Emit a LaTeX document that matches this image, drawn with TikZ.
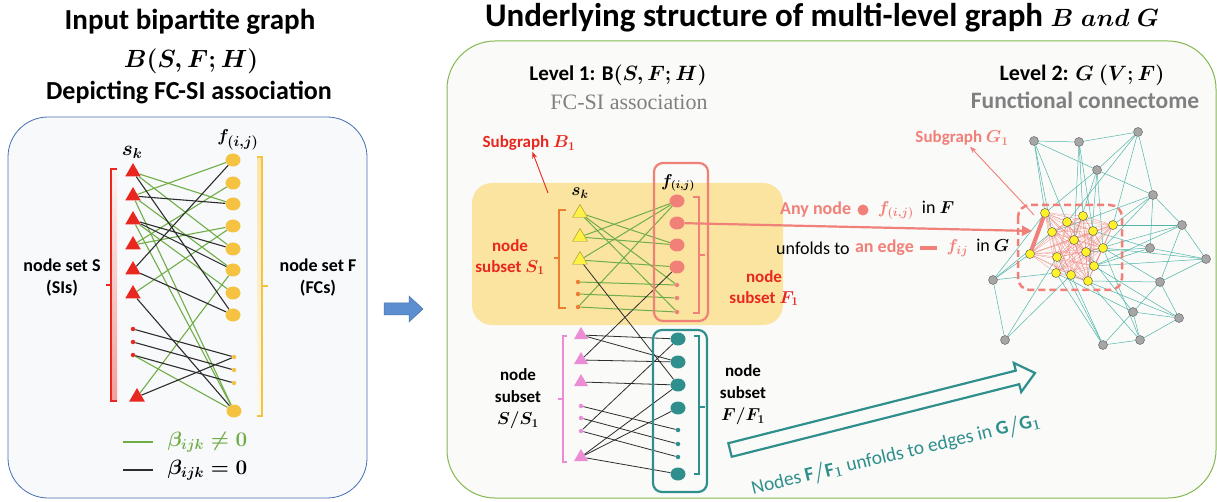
\documentclass[tikz,border=0pt]{standalone}
\usepackage{amsmath}
\usepackage{amssymb}
\usepackage{fontspec}
\setmainfont{Carlito}
\newfontfamily\camfont{Liberation Serif}
\usetikzlibrary{arrows.meta, positioning, shapes.geometric, calc}
\pgfdeclarelayer{panel}
\pgfdeclarelayer{edges}
\pgfsetlayers{panel,edges,main}

\definecolor{sired}{RGB}{232,40,30}
\definecolor{fcyellow}{RGB}{245,194,66}
\definecolor{betagreen}{RGB}{112,173,71}
\definecolor{edgeblack}{RGB}{45,45,45}
\definecolor{subyellow}{RGB}{250,228,160}
\definecolor{salmon}{RGB}{240,128,120}
\definecolor{tealc}{RGB}{47,143,140}
\definecolor{pinktri}{RGB}{236,140,212}
\definecolor{netteal}{RGB}{80,182,170}
\definecolor{nodegray}{RGB}{166,166,166}
\definecolor{ynet}{RGB}{255,242,40}
\definecolor{triyellow}{RGB}{255,240,70}
\definecolor{brorange}{RGB}{237,125,49}
\definecolor{panelblue}{RGB}{70,110,180}
\definecolor{panelgreen}{RGB}{130,185,80}
\definecolor{txtgray}{RGB}{128,128,128}
\definecolor{arrblue}{RGB}{91,143,208}
\definecolor{panelfill}{RGB}{248,249,251}
\definecolor{panelfilltwo}{RGB}{250,250,249}

\begin{document}
\begin{tikzpicture}[x=1pt, y=-1pt,
    title/.style={font=\fontsize{29}{32}\selectfont\bfseries},
    subtitle/.style={font=\fontsize{21}{25}\selectfont\bfseries},
    lbl/.style={font=\fontsize{17}{21}\selectfont\bfseries, align=center, inner sep=1pt},
    plain/.style={font=\fontsize{18}{21}\selectfont, inner sep=1pt},
    stri/.style={regular polygon, regular polygon sides=3, fill=#1, minimum size=18pt, inner sep=0pt},
    bignode/.style={ellipse, fill=#1, minimum width=15pt, minimum height=13pt, inner sep=0pt},
    sdot/.style={circle, fill=#1, minimum size=4.5pt, inner sep=0pt},
    gnode/.style={circle, fill=nodegray, draw=gray!70!black, line width=0.4pt, minimum size=9pt, inner sep=0pt},
    ynode/.style={circle, fill=ynet, draw=gray!60!black, line width=0.4pt, minimum size=9pt, inner sep=0pt},
    gedge/.style={betagreen, line width=1.1pt},
    bedge/.style={edgeblack, line width=1.1pt},
    thinb/.style={edgeblack, line width=0.8pt},
    tedge/.style={netteal, line width=0.5pt},
    redge/.style={salmon, line width=0.35pt, opacity=0.75},
    bracket/.style={line width=1.3pt},
    arr/.style={-{Stealth[length=7pt, width=5pt]}, line width=0.9pt}
  ]
  \useasboundingbox (0,0) rectangle (1217,502);

  % -- panels --
  \begin{pgfonlayer}{panel}
    \draw[panelblue, fill=panelfill, line width=0.8pt, rounded corners=40pt] (8,117) rectangle (367,498);
    \draw[panelgreen, fill=panelfilltwo, line width=1pt, rounded corners=48pt] (447,41) rectangle (1216,498);
    \fill[subyellow, rounded corners=20pt] (472,183) rectangle (783,325);
  \end{pgfonlayer}

  % -- titles --
  \node[title] (ltitle) at (190,22) {Input bipartite graph};
  \node[font=\fontsize{31}{34}\selectfont] (lmath) at (191,61) {$\boldsymbol{B(S,F;H)}$};
  \node[title, font=\fontsize{26}{30}\selectfont\bfseries] (ldesc) at (189,93) {Depicting FC-SI association};
  \node[title, font=\fontsize{33}{36}\selectfont\bfseries] (rtitle) at (822,18) {Underlying structure of multi-level graph $\boldsymbol{B}$ $\boldsymbol{and}$ $\boldsymbol{G}$};
  \node[subtitle] (lev1) at (618,75) {Level 1: $\boldsymbol{\mathrm{B}(S,F;H)}$};
  \node[font=\camfont\fontsize{22}{25}\selectfont, text=txtgray] (lev1d) at (629,102) {FC-SI association};
  \node[subtitle, font=\fontsize{22}{25}\selectfont\bfseries] (lev2) at (1082,75) {Level 2: $\boldsymbol{G\ (V;F)}$};
  \node[subtitle, font=\fontsize{23.5}{25}\selectfont\bfseries, text=txtgray] (lev2d) at (1085,100) {Functional connectome};

  % -- input bipartite graph --
  \foreach \y [count=\i] in {172,196,220,245,270,294}
    \node[stri=sired] (s\i) at (133,\y) {};
  \foreach \y [count=\i from 7] in {329,342,355}
    \node[sdot=sired] (s\i) at (133,\y) {};
  \node[stri=sired] (s10) at (137,397) {};
  \foreach \y [count=\i] in {160,183,204,226,249,270,293,315}
    \node[bignode=fcyellow] (f\i) at (233,\y) {};
  \foreach \y [count=\i from 9] in {357,370,383}
    \node[sdot=fcyellow] (f\i) at (234,\y) {};
  \node[bignode=fcyellow] (f12) at (234,411) {};
  \node[font=\fontsize{21}{24}\selectfont] (sk) at (132,152) {$\boldsymbol{s_k}$};
  \node[font=\fontsize{19}{22}\selectfont] (fij) at (238,140) {$\boldsymbol{f_{(i,j)}}$};

  \begin{pgfonlayer}{edges}
    \foreach \a/\b in {1/3,1/5,2/1,2/6,2/12,3/7,3/12,4/2,4/4,6/4,9/12,10/6}
      \draw[gedge] (s\a) -- (f\b);
    \foreach \a/\b in {1/8,2/3,3/5,3/6,5/1,5/8,6/12,7/9,8/10,9/11,10/9}
      \draw[bedge] (s\a) -- (f\b);
  \end{pgfonlayer}

  % brackets of S and F
  \shade[top color=sired!6, bottom color=sired!45] (111,169) rectangle (117,401);
  \draw[bracket, sired] (117,169) -- (111,169) -- (111,401) -- (117,401) (111,285) -- (106,285);
  \shade[top color=fcyellow!45, bottom color=fcyellow!10] (257,157) rectangle (262,416);
  \draw[bracket, fcyellow] (257,157) -- (262,157) -- (262,416) -- (257,416) (262,286) -- (268,286);
  \node[lbl, font=\fontsize{18}{22}\selectfont\bfseries] (setS) at (62,278) {node set S\\(SIs)};
  \node[lbl, font=\fontsize{18}{22}\selectfont\bfseries] (setF) at (318,278) {node set F\\(FCs)};

  % legend
  \coordinate (lgg) at (123,442);
  \coordinate (lggend) at (153,442);
  \coordinate (lgb) at (123,470);
  \coordinate (lgbend) at (153,470);
  \draw[gedge, line width=1.6pt] (lgg) -- (lggend);
  \draw[bedge, line width=1.6pt] (lgb) -- (lgbend);
  \node[font=\fontsize{21}{24}\selectfont, text=betagreen, anchor=west] (lgtxtg) at (164,442) {$\boldsymbol{\beta_{ijk}\neq 0}$};
  \node[font=\fontsize{21}{24}\selectfont, anchor=west] (lgtxtb) at (164,470) {$\boldsymbol{\beta_{ijk}= 0}$};

  % blue arrow between panels
  \fill[arrblue, draw=arrblue!80!black, line width=0.5pt] (384,303) -- (409,303) -- (409,296) -- (423,309) -- (409,322) -- (409,315) -- (384,315) -- cycle;

  % -- level 1: subgraph B1 --
  \foreach \y [count=\i] in {213,237,260}
    \node[stri=triyellow, draw=triyellow!60!black, line width=0.4pt, minimum size=17pt] (t\i) at (580,\y) {};
  \foreach \y [count=\i from 4] in {282,294,307}
    \node[sdot=brorange] (t\i) at (578,\y) {};
  \foreach \y [count=\i] in {201,223,245,267}
    \node[bignode=salmon] (c\i) at (677,\y) {};
  \foreach \y [count=\i from 5] in {285,298,312}
    \node[sdot=salmon] (c\i) at (677,\y) {};
  \node[font=\fontsize{17}{20}\selectfont] (sk1) at (580,193) {$\boldsymbol{s_k}$};
  \node[font=\fontsize{16}{20}\selectfont] (fij1) at (678,183) {$\boldsymbol{f_{(i,j)}}$};

  % -- level 1: rest of B --
  \foreach \y [count=\i] in {335,360,382}
    \node[stri=pinktri, minimum size=16pt] (u\i) at (581,\y) {};
  \foreach \y [count=\i from 4] in {406,418,431}
    \node[sdot=pinktri] (u\i) at (581,\y) {};
  \node[stri=pinktri, minimum size=16pt] (u7) at (581,457) {};
  \foreach \y [count=\i] in {339,362,385,408}
    \node[bignode=tealc] (v\i) at (678,\y) {};
  \foreach \y [count=\i from 5] in {430,444,457}
    \node[sdot=tealc] (v\i) at (678,\y) {};
  \node[bignode=tealc] (v8) at (678,474) {};

  \begin{pgfonlayer}{edges}
    \foreach \a/\b in {1/3,1/5,2/1,2/3,3/1,3/4,4/5,5/6,6/7,6/1,1/7}
      \draw[betagreen, line width=1pt] (t\a) -- (c\b);
    \draw[thinb] (t3) -- (v3);
    \draw[thinb] (c4) -- (u2);
    \foreach \a/\b in {1/1,1/2,2/2,3/3,6/1,7/3,7/4,4/5,5/6,6/7,7/8}
      \draw[thinb] (u\a) -- (v\b);
  \end{pgfonlayer}

  \draw[salmon, line width=2.2pt, rounded corners=9pt] (654,163) rectangle (708,321);
  \draw[tealc, line width=2.2pt, rounded corners=9pt] (653,330) rectangle (707,492);
  \draw[bracket, brorange] (566,210) -- (559,210) -- (559,308) -- (566,308) (559,258) -- (554,258);
  \draw[bracket, salmon] (693,197) -- (699,197) -- (699,313) -- (693,313) (699,255) -- (705,255);
  \draw[bracket, pinktri] (567,336) -- (563,336) -- (563,462) -- (567,462) (563,399) -- (558,399);
  \draw[bracket, tealc] (694,336) -- (699,336) -- (699,474) -- (694,474) (699,407) -- (705,407);

  \node[lbl, text=sired] (subS1) at (510,257) {node\\subset $\boldsymbol{S_1}$};
  \node[lbl, text=sired] (subF1) at (764,288) {node\\subset $\boldsymbol{F_1}$};
  \node[lbl, font=\fontsize{17}{22}\selectfont\bfseries] (subS) at (518,399) {node\\subset\\$\boldsymbol{S/S_1}$};
  \node[lbl, font=\fontsize{17}{22}\selectfont\bfseries] (subF) at (743,395) {node\\subset\\$\boldsymbol{F/F_1}$};

  \node[lbl, text=sired] (subB) at (529,143) {Subgraph $\boldsymbol{B_1}$};
  \coordinate (b1tail) at (548,193);
  \draw[arr, sired] (b1tail) -- (subB);

  % -- level 2: functional connectome --
  \foreach \p [count=\i] in {(1034,141),(1079,142),(1138,132),(1097,170),(1153,195),(1182,225),(1150,248),(1206,259),(1160,282),(993,280),(1133,312),(1179,318),(1005,340),(1103,345),(1140,340)}
    \node[gnode] (g\i) at \p {};
  \foreach \p [count=\i] in {(1045,213),(1067,222),(1083,216),(1052,232),(1093,231),(1113,225),(1074,240),(1030,254),(1057,257),(1086,252),(1103,248),(1094,266),(1056,273),(1071,275),(1088,281)}
    \node[ynode] (y\i) at \p {};

  \begin{pgfonlayer}{edges}
    \foreach \a/\b in {1/2,2/3,1/4,3/4,3/5,4/5,5/6,5/7,6/8,6/9,7/8,8/9,9/12,9/11,10/13,11/14,11/15,12/15,12/11,14/15}
      \draw[tedge] (g\a) -- (g\b);
    \foreach \a/\b in {1/1,1/2,1/4,2/3,2/5,2/7,3/6,3/2,4/1,4/7,4/11,4/15,5/6,5/11,5/4,6/6,6/12,6/10,7/10,7/5,7/12,8/12,8/11,9/15,9/11,10/1,10/8,10/13,10/4,13/14,13/9,11/13,11/10,12/12,12/14,14/14,14/13,14/9,15/15,15/11}
      \draw[tedge] (g\a) -- (y\b);
    \foreach \i in {1,...,14}{
      \pgfmathtruncatemacro\nxt{\i+1}
      \foreach \j in {\nxt,...,15}
        \draw[redge] (y\i) -- (y\j);
    }
    \draw[salmon, line width=4pt] (y1) -- (y8);
  \end{pgfonlayer}

  \draw[salmon, line width=2.5pt, dash pattern=on 7pt off 4pt, rounded corners=12pt] (1018,205) rectangle (1122,290);
  \node[lbl, text=salmon] (subG) at (962,138) {Subgraph $\boldsymbol{G_1}$};
  \coordinate (g1tail) at (1034,215);
  \draw[arr, salmon] (g1tail) -- (subG);

  % -- node f(i,j) unfolds to edge f_ij --
  \coordinate (hitG) at (1032,231);
  \draw[salmon, line width=2.2pt, -{Triangle[length=10pt, width=10pt]}] (c2) -- (hitG);
  \node[lbl, text=salmon, font=\fontsize{18}{21}\selectfont\bfseries, anchor=west] (anyn) at (779,210) {Any node};
  \node[circle, fill=salmon, minimum size=11pt, inner sep=0pt, right=5pt of anyn] (anydot) {};
  \node[plain, right=8pt of anydot] (anyf) {\textcolor{salmon}{$\boldsymbol{f_{(i,j)}}$}\ \ in $\boldsymbol{F}$};
  \node[plain, anchor=west] (unf) at (775,248) {unfolds to};
  \node[plain, text=salmon, font=\fontsize{18}{21}\selectfont\bfseries, right=3pt of unf] (anedge) {an edge};
  \node[fill=salmon, minimum width=17pt, minimum height=4.5pt, inner sep=0pt, right=5pt of anedge] (edgebar) {};
  \node[plain, right=8pt of edgebar] (fij2) {\textcolor{salmon}{$\boldsymbol{f_{ij}}$}\ \ in $\boldsymbol{G}$};

  % -- F/F1 unfolds to G/G1 --
  \draw[tealc, line width=2.2pt, fill=panelfilltwo, line join=miter] (731.7,456.8) -- (1019.2,384.2) -- (1021.2,392) -- (1035,373) -- (1013.8,362.9) -- (1015.8,370.6) -- (728.3,443.2) -- cycle;
  \node[font=\fontsize{19.5}{24}\selectfont, text=tealc, rotate=13.5] (unfoldtxt) at (896,455) {Nodes $\boldsymbol{\mathrm{F}/\mathrm{F}_1}$ unfolds to edges in $\boldsymbol{\mathrm{G}/\mathrm{G}_1}$};
\end{tikzpicture}
\end{document}
